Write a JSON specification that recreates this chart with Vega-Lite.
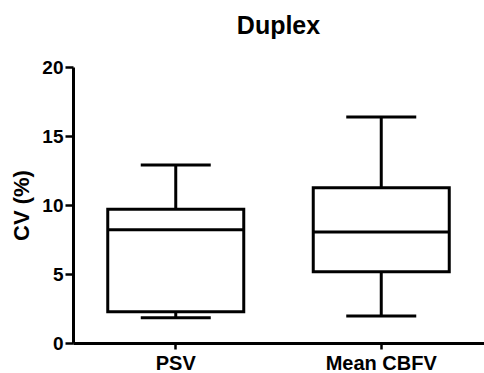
{
  "$schema": "https://vega.github.io/schema/vega-lite/v6.json",
  "width": 411,
  "height": 276,
  "autosize": {"type": "none"},
  "padding": {"left": 73, "top": 67, "right": 0, "bottom": 30},
  "background": "white",
  "title": {"text": "Duplex", "fontSize": 25, "font": "Liberation Sans", "fontWeight": "bold", "color": "black", "anchor": "middle", "offset": 19},
  "data": {"values": [
    {"cat": "PSV", "min": 1.83, "q1": 2.27, "median": 8.2, "q3": 9.69, "max": 12.9},
    {"cat": "Mean CBFV", "min": 1.96, "q1": 5.17, "median": 8.04, "q3": 11.25, "max": 16.38}
  ]},
  "encoding": {
    "x": {"field": "cat", "type": "nominal", "sort": null,
      "scale": {"paddingInner": 0.3, "paddingOuter": 0.15, "align": 0.5},
      "axis": {"title": null, "labelAngle": 0, "labelFontSize": 20, "labelPadding": 4, "tickSize": 6}}
  },
  "layer": [
    {"mark": {"type": "rule", "color": "black", "strokeWidth": 3, "opacity": 1},
     "encoding": {"y": {"field": "min", "type": "quantitative", "scale": {"domain": [0, 20], "nice": false},
        "axis": {"values": [0, 5, 10, 15, 20], "title": "CV (%)", "titleFontSize": 22, "titlePadding": 8, "labelFontSize": 19, "labelPadding": 2, "tickSize": 8}},
       "y2": {"field": "max"}}},
    {"mark": {"type": "bar", "fill": "white", "stroke": "black", "strokeWidth": 3, "width": 136, "opacity": 1},
     "encoding": {"y": {"field": "q1", "type": "quantitative"}, "y2": {"field": "q3"}}},
    {"mark": {"type": "tick", "color": "black", "thickness": 3, "size": 136, "opacity": 1},
     "encoding": {"y": {"field": "median", "type": "quantitative"}}},
    {"mark": {"type": "tick", "color": "black", "thickness": 3, "size": 70, "opacity": 1},
     "encoding": {"y": {"field": "min", "type": "quantitative"}}},
    {"mark": {"type": "tick", "color": "black", "thickness": 3, "size": 70, "opacity": 1},
     "encoding": {"y": {"field": "max", "type": "quantitative"}}}
  ],
  "config": {
    "view": {"stroke": null},
    "font": "Liberation Sans",
    "axis": {"grid": false, "domainColor": "black", "domainWidth": 3, "tickColor": "black", "tickWidth": 2.5,
      "labelColor": "black", "labelFont": "Liberation Sans", "labelFontWeight": "bold",
      "titleColor": "black", "titleFont": "Liberation Sans", "titleFontWeight": "bold"}
  }
}
